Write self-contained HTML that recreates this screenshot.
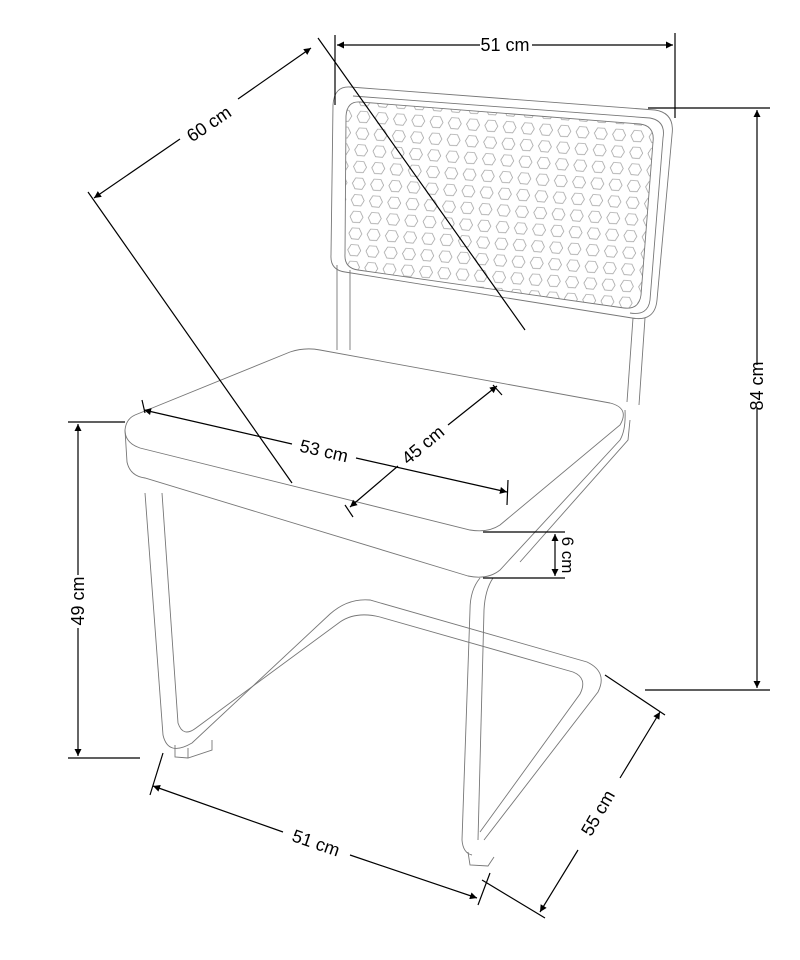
<!DOCTYPE html>
<html><head><meta charset="utf-8"><style>
html,body{margin:0;padding:0;background:#fff;}
svg{display:block;}
text{font-family:"Liberation Sans",Arial,sans-serif;font-size:18px;fill:#000;}
</style></head><body>
<svg width="800" height="960" viewBox="0 0 800 960" xmlns="http://www.w3.org/2000/svg">
<defs>
<marker id="a" viewBox="0 0 10 10" refX="10" refY="5" markerWidth="9" markerHeight="7" orient="auto-start-reverse" markerUnits="userSpaceOnUse">
<path d="M0,0 L10,5 L0,10 z" fill="#000"/></marker>
<pattern id="hex" x="345" y="100" width="18.3" height="16.7" patternUnits="userSpaceOnUse" patternTransform="rotate(4)">
<polygon points="4,2.5 11,2.5 14,8 11,13.5 4,13.5 1,8" fill="none" stroke="#999" stroke-width="0.7"/>
</pattern>
<clipPath id="panel"><path d="M360,102 L640,124 Q655,126 653,142 L641,295 Q639,310 624,308 L358,270 Q344,268 345,254 L346,116 Q347,101 360,102 Z"/></clipPath>
</defs>
<g fill="none" stroke="#777" stroke-width="0.9">
<path d="M337,265 L337,350 M350,270 L350,350"/>
<path d="M645,318 L639,405 M633,318 L627,402"/>
<path d="M350,87 L655,110 Q675,113 672,135 L657,300 Q655,322 632,318 L345,272 Q330,270 331,255 L333,105 Q334,86 350,87 Z"/>
<path d="M353,96 L650,118 Q666,121 663,138 L650,300 Q648,316 630,313"/>
<rect x="330" y="90" width="340" height="240" fill="url(#hex)" clip-path="url(#panel)" stroke="none"/>
<path d="M360,102 L640,124 Q655,126 653,142 L641,295 Q639,310 624,308 L358,270 Q344,268 345,254 L346,116 Q347,101 360,102 Z"/>
<path d="M135,415 L290,352 Q305,347 320,350 L610,403 Q630,408 620,425 L500,525 Q488,533 470,530 L140,448 Q125,443 125,430 Q126,419 135,415 Z" fill="#fff"/>
<path d="M125,430 L127,462 Q130,476 145,478 L468,576 Q488,580 500,570 L620,440 Q626,430 625,410"/>
<path d="M630,420 L628,440 L520,562"/>
<path d="M145,493 L163,735 Q168,757 192,743 L330,614 Q348,598 370,600 L587,662 Q608,672 598,692 L484,840"/>
<path d="M162,493 L178,723 Q183,738 196,728 L340,622 Q356,611 380,617 L573,672 Q588,678 580,694 L480,832"/>
<path d="M480,578 Q470,590 470,610 L462,840 Q463,853 472,855 M493,578 Q485,590 484,610 L478,840"/>
<path d="M175,745 L175,757 L188,758 L212,750 L212,740 M188,758 L188,748"/>
<path d="M468,852 L470,865 L488,866 L494,857"/>
</g>
<g stroke="#000" stroke-width="1.2" fill="none">
<path d="M335,35 L335,105 M675,33 L675,118"/>
<path d="M337,45 L480,45 M532,45 L673,45" marker-start="url(#a)" marker-end="url(#a)"/>
<path d="M88,192 L292,483 M318,38 L525,330"/>
<path d="M94,198 L180,139" marker-start="url(#a)"/>
<path d="M238,99 L311,48" marker-end="url(#a)"/>
<path d="M648,108 L770,108 M645,690 L770,690"/>
<path d="M757,110 L757,365 M757,408 L757,688" marker-start="url(#a)" marker-end="url(#a)"/>
<path d="M68,422 L125,422 M68,758 L140,758"/>
<path d="M78,424 L78,575 M78,628 L78,756" marker-start="url(#a)" marker-end="url(#a)"/>
<path d="M142,400 L145,413 M508,480 L507,505"/>
<path d="M144,410 L292,444 M356,458 L507,492" marker-start="url(#a)" marker-end="url(#a)"/>
<path d="M345,505 L353,517 M493,385 L502,395"/>
<path d="M350,507 L398,466 M448,425 L497,386" marker-start="url(#a)" marker-end="url(#a)"/>
<path d="M483,532 L565,532 M483,578 L565,578"/>
<path d="M555,534 L555,576" marker-start="url(#a)" marker-end="url(#a)"/>
<path d="M150,795 L163,753 M478,905 L490,873"/>
<path d="M153,786 L283,832 M350,855 L477,898" marker-start="url(#a)" marker-end="url(#a)"/>
<path d="M605,675 L665,715 M482,880 L545,918"/>
<path d="M540,912 L578,850 M620,778 L660,712" marker-start="url(#a)" marker-end="url(#a)"/>
</g>
<text x="505" y="51" text-anchor="middle">51 cm</text>
<text transform="translate(209,124) rotate(-34)" text-anchor="middle" dy="6">60 cm</text>
<text transform="translate(757,386) rotate(-90)" text-anchor="middle" dy="6">84 cm</text>
<text transform="translate(78,601) rotate(-90)" text-anchor="middle" dy="6">49 cm</text>
<text transform="translate(324,451) rotate(13)" text-anchor="middle" dy="6">53 cm</text>
<text transform="translate(423,445) rotate(-40)" text-anchor="middle" dy="6">45 cm</text>
<text transform="translate(567,555) rotate(90)" text-anchor="middle" dy="5" style="font-size:17px">6 cm</text>
<text transform="translate(316,843) rotate(19)" text-anchor="middle" dy="6">51 cm</text>
<text transform="translate(598,813) rotate(-60)" text-anchor="middle" dy="6">55 cm</text>
</svg>
</body></html>
